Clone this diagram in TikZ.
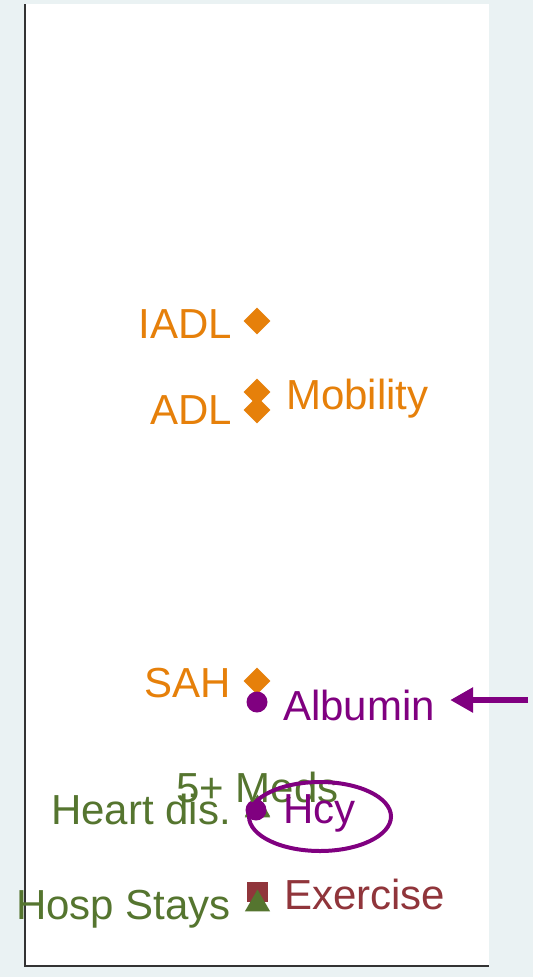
\documentclass[tikz,border=0pt]{standalone}
\usepackage{fontspec}
\setmainfont{Liberation Sans}
\usepackage{tikz}
\usetikzlibrary{arrows.meta,positioning,shapes.geometric}
\definecolor{bgcol}{HTML}{EAF2F3}
\definecolor{healthcol}{HTML}{E6800A}
\definecolor{biocol}{HTML}{800080}
\definecolor{riskcol}{HTML}{55752F}
\definecolor{lifecol}{HTML}{90353B}

\begin{document}
\begin{tikzpicture}[
  x=1pt, y=-1pt, >=Latex,
  lbl/.style={inner sep=0pt, font=\fontsize{42}{48}\selectfont},
  dmark/.style={diamond, fill=healthcol, inner sep=0pt, minimum size=27pt},
  cmark/.style={circle, fill=biocol, inner sep=0pt, minimum size=21pt},
  tmark/.style={regular polygon, regular polygon sides=3, fill=riskcol, inner sep=0pt, minimum size=29pt},
  smark/.style={rectangle, fill=lifecol, inner sep=0pt, minimum width=21pt, minimum height=20pt}
]
\useasboundingbox[fill=bgcol] (0,0) rectangle (533,977);
\fill[white] (25,4) rectangle (489,966);
\draw[black!80, line width=1.2pt] (25,4) -- (25,966) -- (489,966);

% health status
\node[dmark] (iadl) at (257,321) {};
\node[dmark] (mob) at (257,392) {};
\node[dmark] (adl) at (257,410) {};
\node[dmark] (sah) at (257,681) {};
\node[lbl, healthcol, anchor=base east] (iadllbl) at (232,338) {IADL};
\node[lbl, healthcol, anchor=base east] (adllbl) at (232,424) {ADL};
\node[lbl, healthcol, anchor=base west] (moblbl) at (286,409) {Mobility};
\node[lbl, healthcol, anchor=base east] (sahlbl) at (231,697) {SAH};

% risk factors and biomarkers
\node[cmark] (albumin) at (257,702) {};
\node[lbl, biocol, anchor=base west] (albuminlbl) at (283,720) {Albumin};
\node[tmark] (meds) at (257.5,809) {};
\node[tmark] (heart) at (257.5,810) {};
\node[cmark] (hcy) at (256,810) {};
\node[lbl, riskcol, anchor=base] (medslbl) at (257.5,802) {5+ Meds};
\node[lbl, riskcol, anchor=base east] (heartlbl) at (231,824) {Heart dis.};
\node[lbl, biocol, anchor=base west] (hcylbl) at (283,823) {Hcy};
\node[ellipse, draw=biocol, line width=4pt, inner sep=0pt,
  minimum width=142pt, minimum height=69pt] (ring) at (320,816.5) {};

\node[smark] (exer) at (257.5,892) {};
\node[tmark] (hosp) at (257.5,904) {};
\node[lbl, lifecol, anchor=base west] (exerlbl) at (284,909) {Exercise};
\node[lbl, riskcol, anchor=base east] (hosplbl) at (231,919) {Hosp Stays};

\coordinate (arrowtail) at (528,700);
\draw[biocol, line width=6.5pt, -{Triangle[length=23pt,width=24pt]}, shorten >=15pt]
  (arrowtail) -- (albuminlbl.east |- arrowtail);
\end{tikzpicture}
\end{document}
